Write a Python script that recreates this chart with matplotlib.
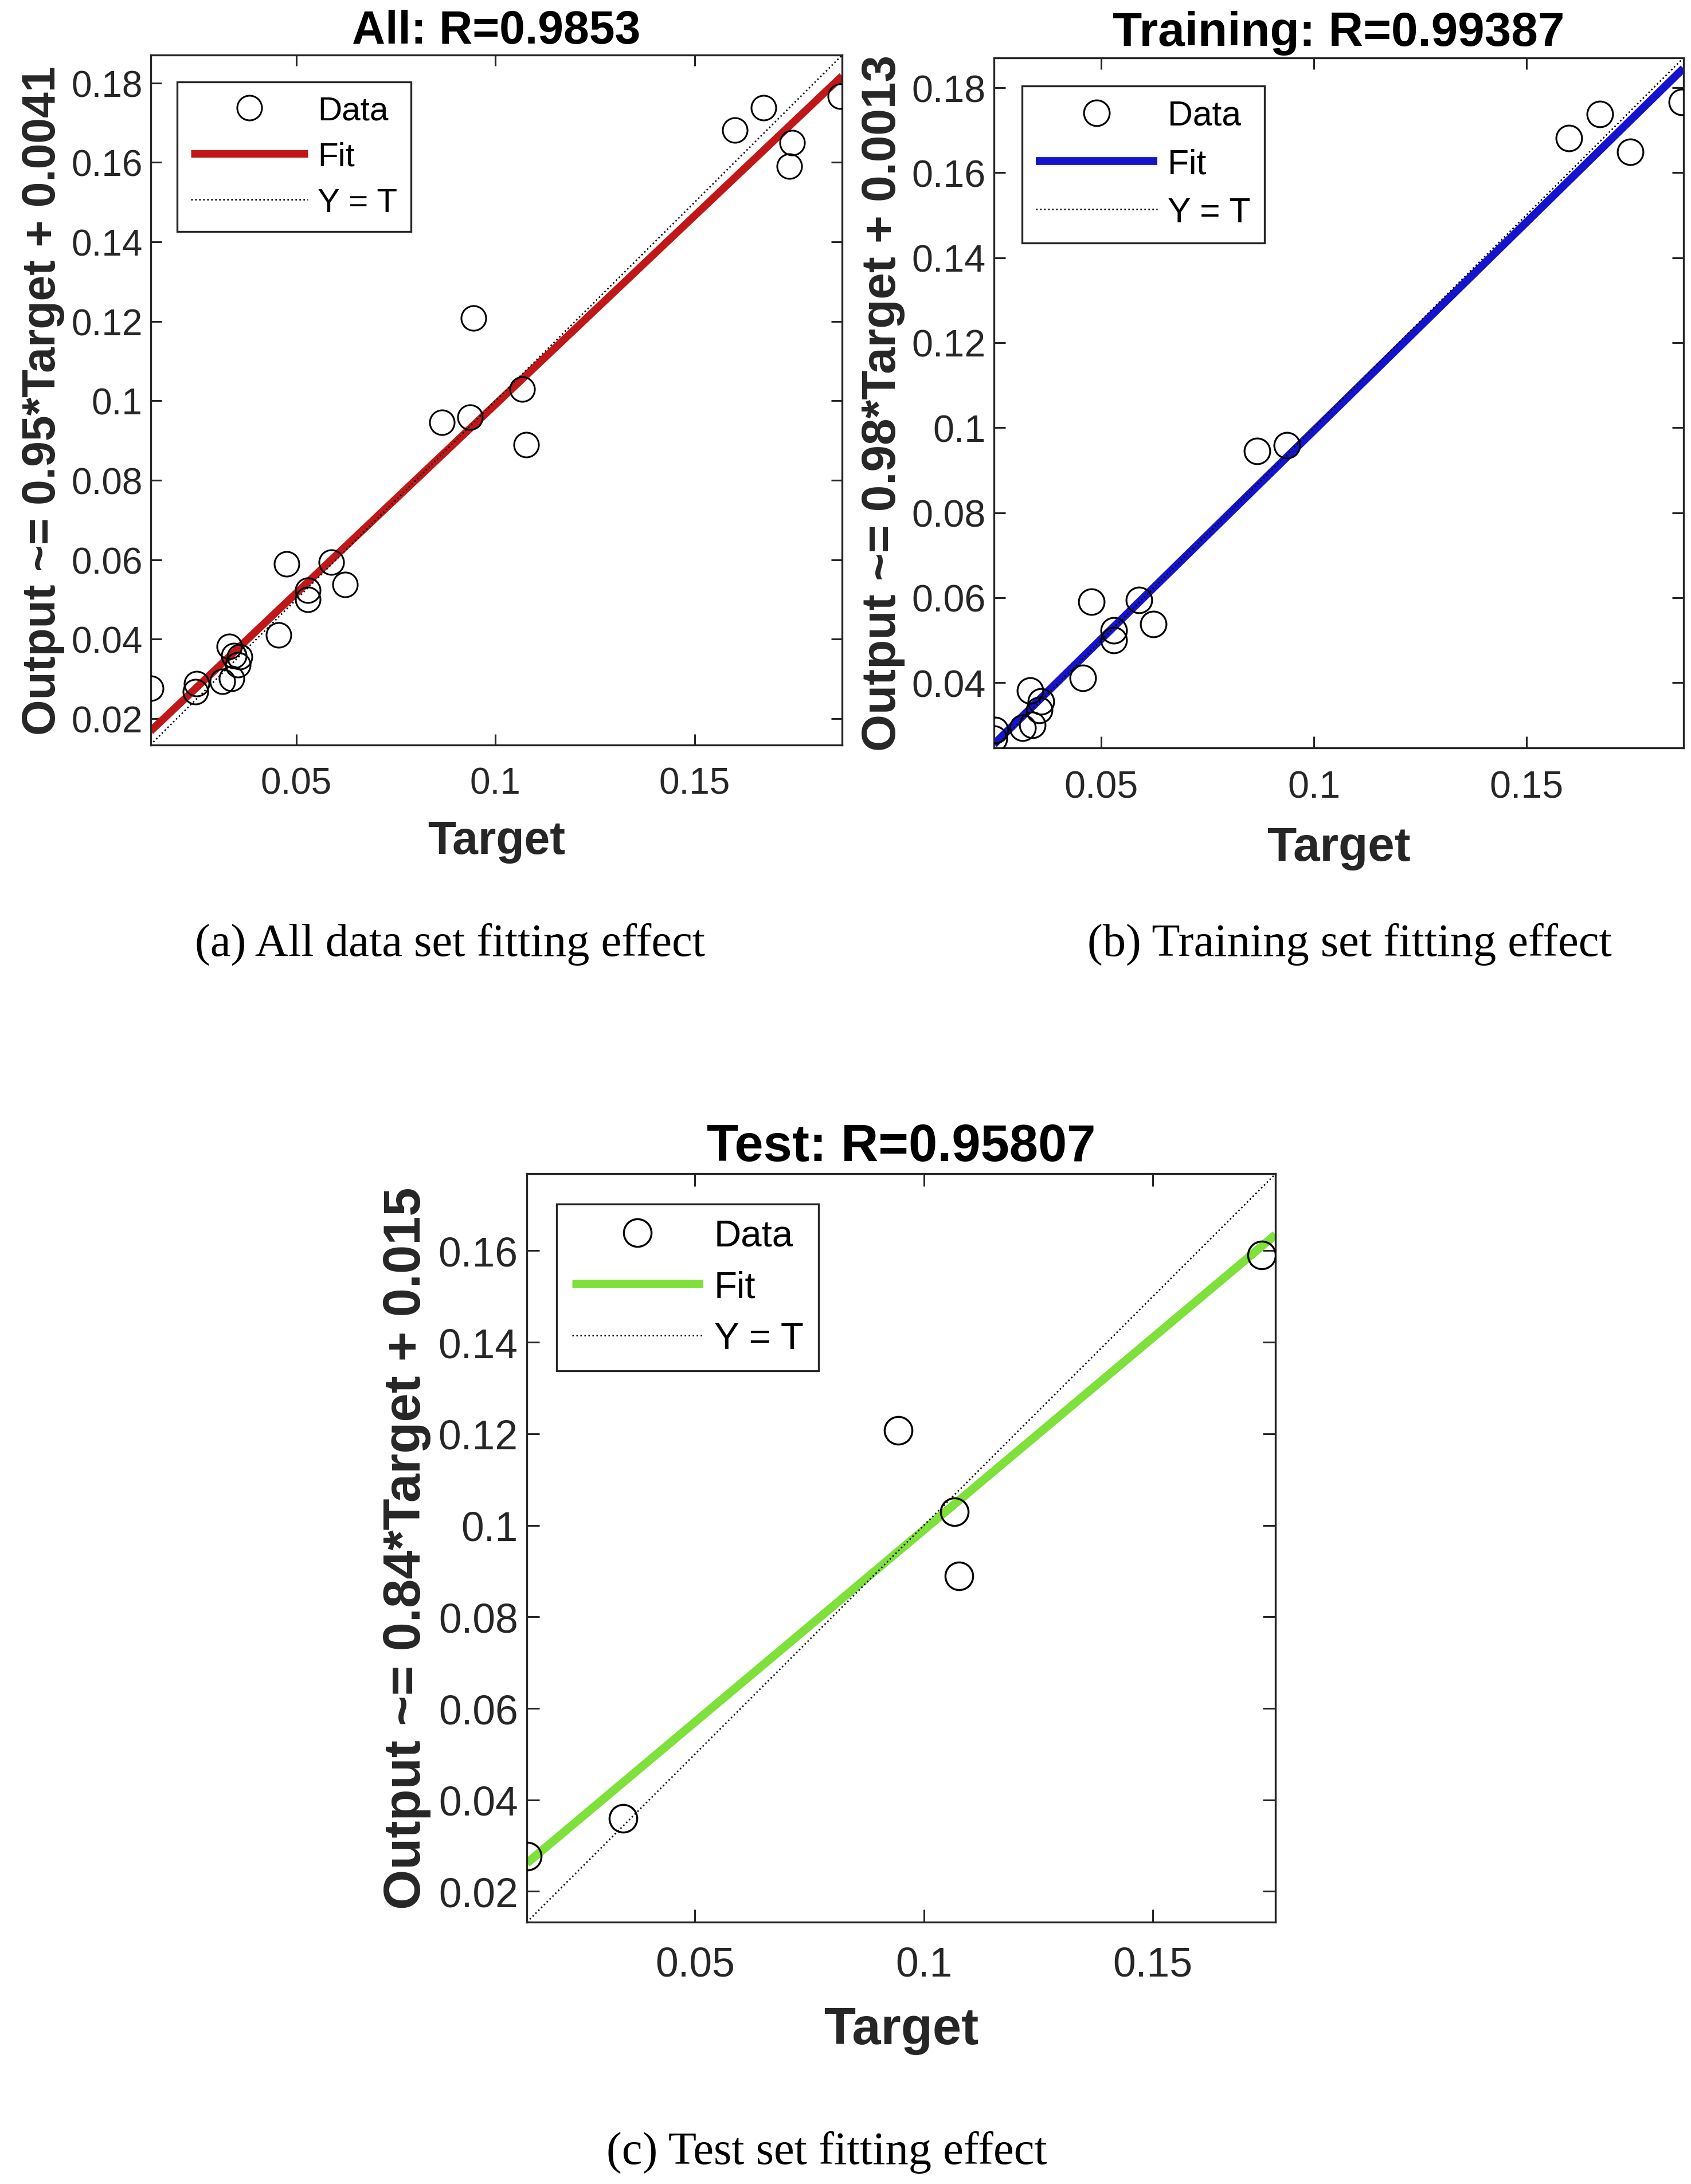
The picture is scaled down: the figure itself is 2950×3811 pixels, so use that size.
import numpy as np
import matplotlib
matplotlib.use("Agg")
import matplotlib.pyplot as plt
from matplotlib.ticker import FuncFormatter, FixedLocator

# ---------------- data ----------------
train_target = [0.0247, 0.0250, 0.0315, 0.0332, 0.0338, 0.0353, 0.0358, 0.0456, 0.0476,
                0.0529, 0.0529, 0.0588, 0.0622, 0.0866, 0.0936, 0.1601, 0.1673, 0.1745, 0.1866]
train_output = [0.0268, 0.0288, 0.0294, 0.0381, 0.0301, 0.0335, 0.0356, 0.0411, 0.0590,
                0.0523, 0.0500, 0.0594, 0.0538, 0.0945, 0.0959, 0.1681, 0.1738, 0.1649, 0.1767]
test_target = [0.0134, 0.0343, 0.0944, 0.1067, 0.1077, 0.1738]
test_output = [0.0277, 0.0359, 0.1208, 0.1030, 0.0889, 0.1590]

all_target = train_target + test_target
all_output = train_output + test_output

titles = ["All: R=0.9853", "Training: R=0.99387", "Test: R=0.95807"]
ylabels = ["Output ~= 0.95*Target + 0.0041",
           "Output ~= 0.98*Target + 0.0013",
           "Output ~= 0.84*Target + 0.015"]
fit_slopes = [0.95, 0.98, 0.84]
fit_intercepts = [0.0041, 0.0013, 0.015]
captions = ["(a) All data set fitting effect",
            "(b) Training set fitting effect",
            "(c) Test set fitting effect"]
axis_limits = [(0.0134, 0.1870), (0.0247, 0.1870), (0.0133, 0.1768)]
x_ticks = [0.05, 0.1, 0.15]
y_ticks = [[0.02, 0.04, 0.06, 0.08, 0.10, 0.12, 0.14, 0.16, 0.18],
           [0.04, 0.06, 0.08, 0.10, 0.12, 0.14, 0.16, 0.18],
           [0.02, 0.04, 0.06, 0.08, 0.10, 0.12, 0.14, 0.16]]
fit_colors = ["#C01818", "#1414CC", "#7EE03A"]

# ---------------- style ----------------
plt.rcParams['font.family'] = ['Liberation Sans', 'DejaVu Sans']
W, H = 2950, 3812
DPI = 100
fig = plt.figure(figsize=(W / DPI, H / DPI), dpi=DPI)
fig.patch.set_facecolor("white")

dark = "#262626"
positions = [
    [0.0890, 0.6588, 0.4090, 0.3157],
    [0.5878, 0.6575, 0.4077, 0.3157],
    [0.3116, 0.1199, 0.4427, 0.3425],
]
scales = [1.0, 1.04, 1.12]

datasets = [(all_target, all_output), (train_target, train_output), (test_target, test_output)]
fmt = FuncFormatter(lambda v, p: ("%g" % round(v, 4)))

for i in range(3):
    s = scales[i]
    ax = fig.add_axes(positions[i])
    t, o = datasets[i]
    lo, hi = axis_limits[i]
    xs = np.array([lo, hi])
    ax.plot(t, o, linestyle='none', marker='o', markersize=31 * s, markerfacecolor='none',
            markeredgecolor='black', markeredgewidth=2.2 * s, label='Data', zorder=3)
    ax.plot(xs, fit_slopes[i] * xs + fit_intercepts[i], color=fit_colors[i], linewidth=9.5 * s,
            label='Fit', zorder=2, solid_capstyle='butt')
    ax.plot(xs, xs, color='black', linestyle=':', linewidth=1.9, label='Y = T', zorder=2.5)
    ax.set_xlim(lo, hi)
    ax.set_ylim(lo, hi)
    ax.xaxis.set_major_locator(FixedLocator(x_ticks))
    ax.yaxis.set_major_locator(FixedLocator(y_ticks[i]))
    ax.xaxis.set_major_formatter(fmt)
    ax.yaxis.set_major_formatter(fmt)
    ax.tick_params(axis='both', which='major', direction='in', length=14 * s, width=2.2,
                   top=True, right=True, labelsize=46 * s, colors=dark, labelcolor=dark)
    ax.tick_params(axis='x', pad=27 * s)
    ax.tick_params(axis='y', pad=10 * s)
    for sp in ax.spines.values():
        sp.set_linewidth(2.4)
        sp.set_color(dark)
    ax.set_title(titles[i], fontsize=58 * s, fontweight='bold', color='black', pad=15 * s)
    ax.set_xlabel("Target", fontsize=58 * s, fontweight='bold', color=dark, labelpad=24 * s)
    ax.set_ylabel(ylabels[i], fontsize=58 * s, fontweight='bold', color=dark, labelpad=8 * s)
    leg = ax.legend(loc='upper left', fontsize=42 * s, handlelength=3.5, handletextpad=0.3,
                    borderpad=0.4, labelspacing=0.45, borderaxespad=0.8, fancybox=False,
                    framealpha=1, edgecolor=dark, markerscale=1.0)
    leg.get_frame().set_linewidth(2.4)
    for txt in leg.get_texts():
        txt.set_color('black')

cap_pos = [(323 / 1213, 1 - 678 / 1568), (968 / 1213, 1 - 678 / 1568), (593 / 1213, 1 - 1545 / 1568)]
for i in range(3):
    fig.text(cap_pos[i][0], cap_pos[i][1], captions[i], ha='center', va='center',
             fontsize=58, family=['Liberation Serif', 'DejaVu Serif'], color='black')

fig.savefig("out.png", dpi=DPI, facecolor='white')
